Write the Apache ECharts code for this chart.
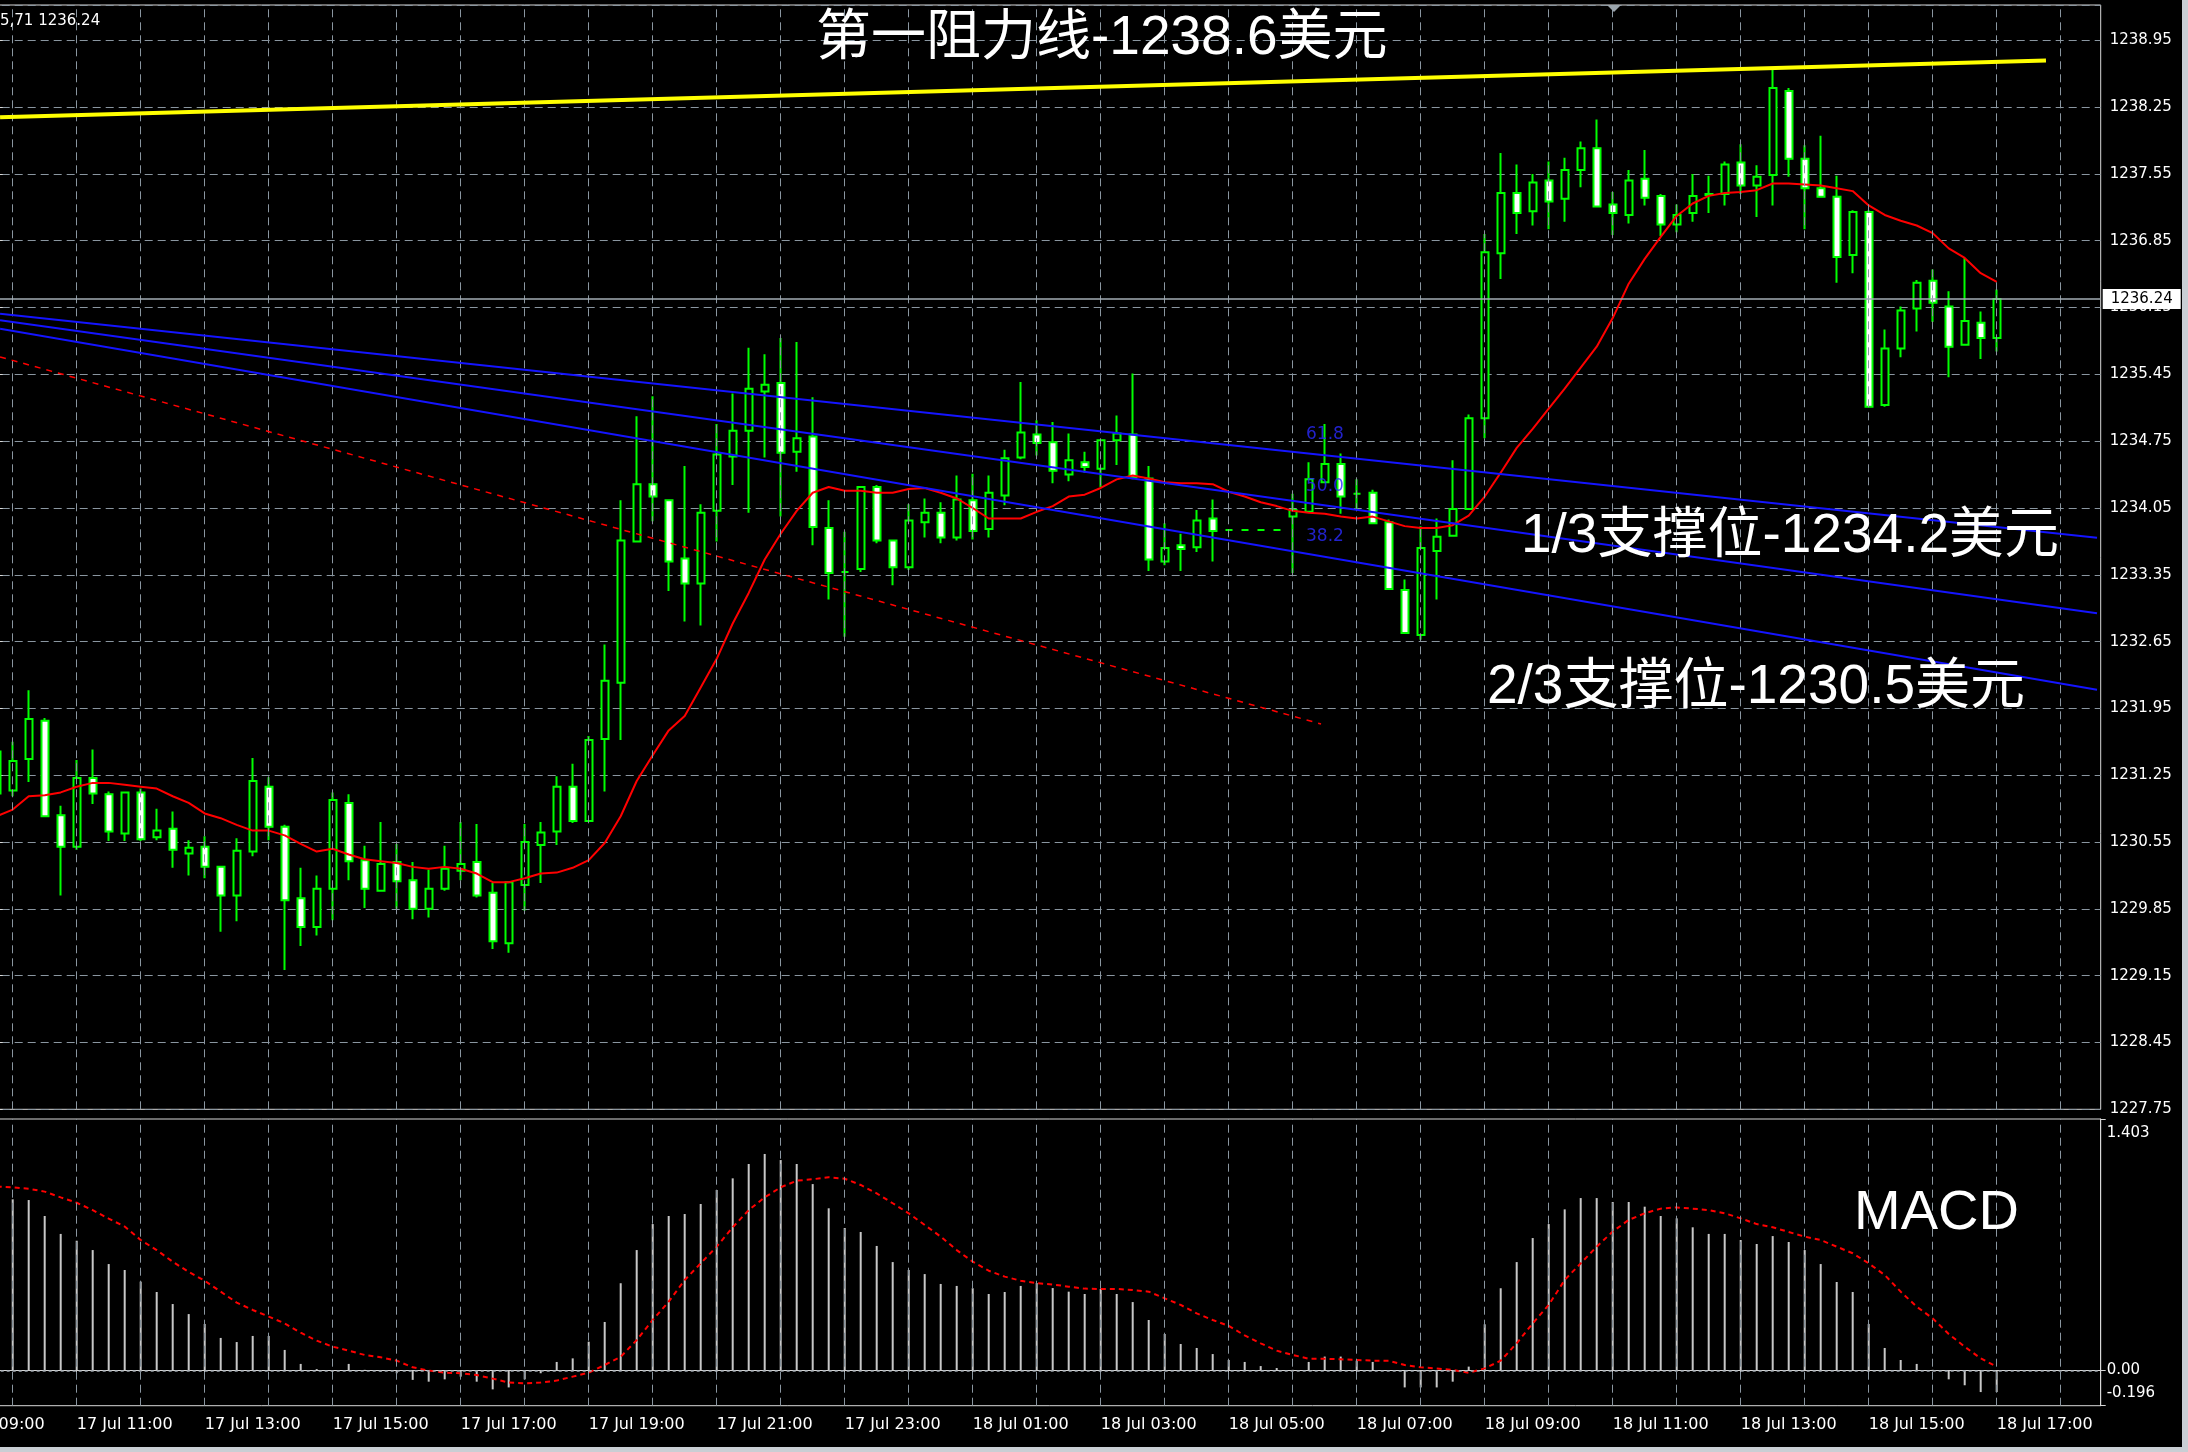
<!DOCTYPE html>
<html><head><meta charset="utf-8">
<script src="https://cdn.jsdelivr.net/npm/echarts@6/dist/echarts.min.js"></script>
<style>html,body{margin:0;padding:0;background:#000;}#c{width:2188px;height:1452px;}</style>
</head><body><div id="c"></div>
<script>
// ---------- DATA ----------
// 15-minute bars from 17 Jul 09:45 to 18 Jul 17:00 (126 bars) + 6 empty slots of chart shift
const BAR_COUNT = 126, SLOT_COUNT = 132;
const CATEGORIES = [];
for (let k = 0; k < SLOT_COUNT; k++) {
  const mins = 9 * 60 + 45 + 15 * k;
  const day = 17 + Math.floor(mins / 1440);
  const m = mins % 1440;
  CATEGORIES.push(day + ' Jul ' + String(Math.floor(m / 60)).padStart(2, '0') + ':' + String(m % 60).padStart(2, '0'));
}
const OPEN = [1231.06,1231.09,1231.42,1231.82,1230.83,1230.50,1231.22,1231.05,1230.64,1231.07,
1230.60,1230.69,1230.43,1230.50,1230.29,1229.99,1230.45,1231.13,1230.71,1229.96,
1229.66,1230.06,1230.96,1230.36,1230.04,1230.34,1230.15,1229.85,1230.06,1230.25,
1230.34,1230.02,1229.49,1230.10,1230.52,1230.66,1231.13,1230.77,1231.63,1232.22,
1233.70,1234.30,1234.13,1233.52,1233.26,1234.02,1234.59,1234.86,1235.27,1235.36,
1234.64,1234.80,1233.84,1233.38,1233.41,1234.27,1233.71,1233.43,1233.90,1234.00,
1233.74,1234.13,1233.83,1234.18,1234.58,1234.82,1234.74,1234.40,1234.53,1234.46,
1234.76,1234.82,1234.36,1233.49,1233.66,1233.64,1233.94,1233.82,1233.82,1233.82,
1233.82,1233.96,1234.01,1234.32,1234.51,1234.20,1234.21,1233.90,1233.19,1232.72,
1233.60,1233.76,1234.04,1234.99,1236.72,1237.35,1237.16,1237.48,1237.29,1237.59,
1237.82,1237.23,1237.12,1237.50,1237.32,1237.02,1237.14,1237.33,1237.34,1237.67,
1237.43,1237.54,1238.42,1237.71,1237.40,1237.31,1236.70,1237.15,1235.13,1235.72,
1236.14,1236.43,1236.16,1235.76,1235.99,1235.83];
const CLOSE = [1231.50,1231.40,1231.84,1230.82,1230.50,1231.22,1231.06,1230.66,1231.07,1230.58,
1230.67,1230.47,1230.49,1230.29,1229.99,1230.46,1231.19,1230.71,1229.94,1229.66,
1230.06,1230.99,1230.35,1230.06,1230.32,1230.14,1229.85,1230.06,1230.27,1230.32,
1229.99,1229.51,1230.13,1230.55,1230.65,1231.13,1230.77,1231.62,1232.24,1233.71,
1234.30,1234.17,1233.49,1233.26,1234.00,1234.61,1234.86,1235.30,1235.34,1234.63,
1234.78,1233.85,1233.37,1233.38,1234.27,1233.71,1233.43,1233.92,1234.00,1233.74,
1234.14,1233.81,1234.21,1234.57,1234.84,1234.73,1234.44,1234.55,1234.48,1234.76,
1234.83,1234.37,1233.51,1233.63,1233.62,1233.92,1233.81,1233.82,1233.82,1233.82,
1233.82,1234.03,1234.35,1234.51,1234.17,1234.20,1233.89,1233.20,1232.74,1233.63,
1233.75,1234.04,1234.99,1236.73,1237.35,1237.14,1237.46,1237.26,1237.59,1237.82,
1237.21,1237.14,1237.48,1237.30,1237.02,1237.12,1237.32,1237.34,1237.65,1237.43,
1237.52,1238.45,1237.71,1237.40,1237.31,1236.68,1237.15,1235.11,1235.72,1236.12,
1236.41,1236.20,1235.74,1236.01,1235.83,1236.24];
const LOW = [1230.98,1231.03,1231.18,1230.81,1229.99,1230.47,1230.95,1230.56,1230.56,1230.56,
1230.57,1230.28,1230.20,1230.17,1229.61,1229.72,1230.40,1230.57,1229.21,1229.46,
1229.57,1229.73,1230.15,1229.86,1230.03,1229.85,1229.74,1229.76,1230.04,1230.15,
1229.97,1229.43,1229.39,1229.83,1230.12,1230.52,1230.75,1230.76,1231.08,1231.62,
1233.69,1233.91,1233.18,1232.86,1232.82,1233.70,1234.29,1234.00,1234.58,1233.96,
1234.43,1233.66,1233.09,1232.70,1233.38,1233.68,1233.24,1233.40,1233.74,1233.68,
1233.71,1233.72,1233.74,1234.08,1234.56,1234.60,1234.31,1234.33,1234.42,1234.27,
1234.50,1234.35,1233.39,1233.45,1233.39,1233.59,1233.49,1233.82,1233.82,1233.82,
1233.82,1233.37,1234.01,1234.32,1233.99,1234.04,1233.89,1233.20,1232.74,1232.67,
1233.09,1233.76,1234.04,1234.78,1236.45,1236.92,1237.01,1236.97,1237.05,1237.41,
1237.21,1236.91,1237.03,1237.22,1236.90,1236.94,1237.05,1237.14,1237.22,1237.34,
1237.10,1237.22,1237.52,1236.97,1237.31,1236.41,1236.51,1235.10,1235.11,1235.63,
1235.90,1236.00,1235.42,1235.76,1235.61,1235.69];
const HIGH = [1231.55,1231.60,1232.14,1231.85,1230.93,1231.41,1231.52,1231.08,1231.07,1231.11,
1230.90,1230.87,1230.57,1230.61,1230.30,1230.59,1231.43,1231.23,1230.73,1230.28,
1230.20,1231.07,1231.05,1230.51,1230.76,1230.53,1230.34,1230.26,1230.51,1230.76,
1230.74,1230.12,1230.14,1230.74,1230.76,1231.24,1231.37,1231.66,1232.62,1234.13,
1235.01,1235.22,1234.14,1234.49,1234.09,1234.93,1235.25,1235.73,1235.66,1235.83,
1235.79,1235.21,1234.13,1233.80,1234.28,1234.29,1233.71,1234.09,1234.15,1234.11,
1234.39,1234.41,1234.39,1234.66,1235.37,1234.97,1234.95,1234.83,1234.64,1234.76,
1235.02,1235.46,1234.49,1233.89,1233.78,1234.03,1234.14,1233.82,1233.82,1233.82,
1233.82,1234.20,1234.53,1234.93,1234.62,1234.35,1234.24,1233.93,1233.30,1233.86,
1233.94,1234.55,1235.03,1236.92,1237.77,1237.65,1237.55,1237.68,1237.72,1237.89,
1238.12,1237.36,1237.59,1237.80,1237.34,1237.23,1237.55,1237.53,1237.68,1237.86,
1237.64,1238.64,1238.45,1237.85,1237.95,1237.53,1237.17,1237.17,1235.92,1236.16,
1236.44,1236.55,1236.32,1236.67,1236.11,1236.34];
const MA = [1230.82,1230.89,1231.03,1231.04,1231.07,1231.13,1231.17,1231.17,1231.15,1231.13,
1231.11,1231.03,1230.96,1230.85,1230.80,1230.73,1230.67,1230.67,1230.62,1230.53,
1230.45,1230.48,1230.42,1230.37,1230.35,1230.33,1230.29,1230.27,1230.29,1230.27,
1230.22,1230.13,1230.13,1230.17,1230.22,1230.23,1230.28,1230.36,1230.54,1230.82,
1231.19,1231.46,1231.72,1231.87,1232.17,1232.47,1232.84,1233.16,1233.51,1233.78,
1234.02,1234.21,1234.27,1234.23,1234.23,1234.21,1234.21,1234.25,1234.26,1234.21,
1234.15,1234.05,1233.94,1233.94,1233.94,1234.01,1234.07,1234.17,1234.19,1234.26,
1234.35,1234.39,1234.36,1234.32,1234.31,1234.31,1234.30,1234.22,1234.17,1234.11,
1234.07,1234.02,1234.00,1233.99,1233.96,1233.94,1233.96,1233.91,1233.86,1233.84,
1233.84,1233.87,1233.97,1234.17,1234.42,1234.68,1234.88,1235.09,1235.30,1235.52,
1235.74,1236.04,1236.40,1236.66,1236.89,1237.11,1237.24,1237.32,1237.35,1237.36,
1237.38,1237.45,1237.45,1237.44,1237.43,1237.40,1237.37,1237.22,1237.12,1237.06,
1237.01,1236.93,1236.77,1236.67,1236.51,1236.42];
const MACD_MAIN = [0.970,0.955,0.951,0.862,0.762,0.724,0.672,0.594,0.561,0.496,
0.438,0.371,0.315,0.260,0.182,0.159,0.193,0.193,0.115,0.037,
0.008,-0.004,0.037,0.004,-0.006,-0.015,-0.052,-0.062,-0.049,-0.034,
-0.062,-0.105,-0.094,-0.049,-0.015,0.048,0.068,0.161,0.271,0.487,
0.672,0.817,0.862,0.873,0.929,1.007,1.072,1.152,1.208,1.174,
1.152,1.040,0.905,0.795,0.773,0.695,0.605,0.561,0.538,0.483,
0.472,0.459,0.427,0.438,0.472,0.488,0.460,0.440,0.427,0.455,
0.427,0.382,0.282,0.204,0.148,0.126,0.092,0.059,0.048,0.025,
0.014,0.004,0.048,0.078,0.078,0.055,0.048,0.003,-0.094,-0.094,
-0.094,-0.062,0.022,0.258,0.459,0.605,0.739,0.817,0.899,0.962,
0.962,0.940,0.940,0.914,0.862,0.849,0.799,0.762,0.762,0.728,
0.706,0.750,0.717,0.672,0.594,0.494,0.438,0.260,0.126,0.059,
0.037,0.004,-0.049,-0.082,-0.120,-0.120];
const MACD_SIGNAL = [1.026,1.022,1.014,0.998,0.966,0.936,0.895,0.847,0.803,0.728,
0.672,0.607,0.550,0.501,0.440,0.379,0.338,0.301,0.263,0.211,
0.167,0.133,0.111,0.087,0.074,0.055,0.018,0.000,-0.012,-0.015,
-0.025,-0.045,-0.067,-0.071,-0.067,-0.056,-0.034,-0.012,0.031,0.077,
0.170,0.282,0.384,0.505,0.598,0.691,0.799,0.895,0.966,1.022,
1.059,1.067,1.078,1.070,1.035,0.988,0.933,0.877,0.812,0.747,
0.672,0.607,0.557,0.524,0.501,0.488,0.480,0.468,0.457,0.455,
0.455,0.449,0.440,0.403,0.366,0.319,0.282,0.249,0.196,0.152,
0.111,0.087,0.066,0.066,0.063,0.059,0.055,0.055,0.031,0.018,
0.012,0.003,-0.012,0.012,0.055,0.152,0.263,0.366,0.505,0.598,
0.691,0.775,0.840,0.877,0.903,0.910,0.903,0.895,0.877,0.849,
0.817,0.799,0.773,0.747,0.728,0.691,0.654,0.598,0.533,0.440,
0.356,0.291,0.204,0.133,0.068,0.022];
// Drawn objects (bar index, price)
const RESISTANCE_LINE = [[0.21, 1238.145], [128.08, 1238.739]];
const CHANNEL_LINES = [
  [[0.21, 1236.086], [131.27, 1233.739]],
  [[0.21, 1236.017], [131.27, 1232.948]],
  [[0.21, 1235.927], [131.27, 1232.145]]
];
const RED_TREND_LINE = [[0.21, 1235.633], [82.77, 1231.787]];
const FIBO_LABELS = [[81.8, 1234.817, '61.8'], [81.8, 1234.277, '50.0'], [81.8, 1233.747, '38.2']];
const HOUR_BARS = []; for (let k = 1; k < SLOT_COUNT; k += 4) HOUR_BARS.push(k);
const PRICE_MIN = 1227.75, PRICE_MAX = 1239.32, PRICE_STEP = 0.7;
const MACD_MIN = -0.196, MACD_MAX = 1.403, MACD_LABELS = [-0.196, 0, 1.403];
const BID = 1236.24;

// ---------- CHART ----------
const chart = echarts.init(document.getElementById('c'), null, {renderer: 'canvas', width: 2188, height: 1452});
const GRIDC = '#8a96a0';
const candleData = OPEN.map((o, k) => [o, CLOSE[k], LOW[k], HIGH[k]]);
const vLines = HOUR_BARS.map(k => ({xAxis: CATEGORIES[k]}));
const lineSeries = (pts, color, width, type, z) => ({
  type: 'line', xAxisIndex: 1, yAxisIndex: 0, data: pts, symbol: 'none', z: z,
  lineStyle: {color: color, width: width, type: type || 'solid'}, silent: true, animation: false
});
const txt = (text, x, y, size, fam, color, align, valign) => ({
  type: 'text', x: x, y: y, z: 100, silent: true,
  style: {text: text, fill: color || '#fff', fontSize: size, fontFamily: fam,
    textAlign: align || 'left', textVerticalAlign: valign || 'middle', align: align || 'left', verticalAlign: valign || 'middle'}
});
const CJK = '"Liberation Sans", "Noto Sans CJK SC", sans-serif';
const labelEvery = idx => idx % 8 === 5;
const AXF = {color: '#fff', fontFamily: 'DejaVu Sans', fontSize: 15};
const GRID_COMMON = {left: -11.3, width: 2112, show: true, borderColor: '#d8d8d8', borderWidth: 1,
  backgroundColor: 'transparent', containLabel: false, outerBoundsMode: 'none'};

chart.setOption({
  backgroundColor: '#000',
  animation: false,
  grid: [
    Object.assign({top: 5, height: 1104.3}, GRID_COMMON),
    Object.assign({top: 1119, height: 286.7}, GRID_COMMON)
  ],
  xAxis: [
    {type: 'category', gridIndex: 0, data: CATEGORIES, boundaryGap: true, axisLine: {show: false}, axisTick: {show: false}, axisLabel: {show: false}, splitLine: {show: false}},
    {type: 'value', gridIndex: 0, min: -0.5, max: SLOT_COUNT - 0.5, show: false, splitLine: {show: false}},
    {type: 'category', gridIndex: 1, data: CATEGORIES, boundaryGap: true,
      axisLine: {show: true, lineStyle: {color: '#d8d8d8', width: 1}},
      axisTick: {show: true, alignWithLabel: true, interval: labelEvery, length: 6, lineStyle: {color: '#d8d8d8'}},
      axisLabel: {show: true, interval: labelEvery, align: 'left', color: '#fff', fontFamily: 'DejaVu Sans', fontSize: 16, margin: 11},
      splitLine: {show: false}}
  ],
  yAxis: [
    {type: 'value', gridIndex: 0, position: 'right', min: PRICE_MIN, max: PRICE_MAX, interval: PRICE_STEP,
      axisLine: {show: true, lineStyle: {color: '#d8d8d8', width: 1}},
      axisTick: {show: true, length: 6, lineStyle: {color: '#d8d8d8'}},
      axisLabel: {color: '#fff', fontFamily: 'DejaVu Sans', fontSize: 15, margin: 9, showMaxLabel: false, formatter: v => v.toFixed(2)},
      splitLine: {show: true, lineStyle: {color: GRIDC, type: [8, 5], width: 1}}},
    {type: 'value', gridIndex: 1, position: 'right', min: MACD_MIN, max: MACD_MAX,
      axisLine: {show: true, lineStyle: {color: '#d8d8d8', width: 1}},
      axisTick: {show: true, length: 5, customValues: MACD_LABELS, lineStyle: {color: '#d8d8d8'}},
      axisLabel: {color: '#fff', fontFamily: 'DejaVu Sans', fontSize: 15, margin: 6, customValues: MACD_LABELS,
        verticalAlignMinLabel: 'bottom', verticalAlignMaxLabel: 'top',
        formatter: v => (v === 0 ? '0.00' : v > 1 ? '{t|' + v + '}' : '{b|' + v + '}'),
        rich: {
          t: Object.assign({padding: [7, 0, 0, 0]}, AXF),
          b: Object.assign({padding: [0, 0, 5, 0]}, AXF)
        }},
      splitLine: {show: false}}
  ],
  graphic: [
    txt('第一阻力线-1238.6美元', 816, 39, 55, CJK),
    txt('1/3支撑位-1234.2美元', 1521, 537, 55, CJK),
    txt('2/3支撑位-1230.5美元', 1487, 688, 55, CJK),
    txt('MACD', 1854, 1214, 56, CJK),
    txt('5,71 1236.24', 0, 21, 15, 'DejaVu Sans'),
    txt('17 Jul 09:00', -51.3, 1416.7, 16, 'DejaVu Sans', '#fff', 'left', 'top'),
    {type: 'polygon', z: 100, silent: true, shape: {points: [[1607, 5], [1621, 5], [1614, 12]]}, style: {fill: '#9aa4ac'}},
    {type: 'rect', z: 100, silent: true, shape: {x: 2182, y: 0, width: 6, height: 1452}, style: {fill: '#c9ced4'}},
    {type: 'rect', z: 100, silent: true, shape: {x: 0, y: 1447, width: 2188, height: 5}, style: {fill: '#c9ced4'}}
  ],
  series: [
    {type: 'line', name: 'grid-main', xAxisIndex: 0, yAxisIndex: 0, data: [], z: 1, silent: true,
      markLine: {silent: true, symbol: ['none', 'none'], animation: false, label: {show: false},
        lineStyle: {color: GRIDC, type: [8, 5], width: 1}, data: vLines}},
    {type: 'candlestick', name: 'XAUUSD', xAxisIndex: 0, yAxisIndex: 0, data: candleData, z: 3, barWidth: 7.5,
      itemStyle: {color: '#000', color0: '#fff', borderColor: '#00ff00', borderColor0: '#00ff00', borderColorDoji: '#00ff00', borderWidth: 2},
      markLine: {silent: true, symbol: ['none', 'none'], animation: false, z: 6,
        lineStyle: {color: '#a3adb5', type: 'solid', width: 1.5},
        label: {show: true, position: 'end', distance: 2, formatter: BID.toFixed(2), color: '#000', backgroundColor: '#fff',
          padding: [3, 8, 2, 8], fontFamily: 'DejaVu Sans', fontSize: 15},
        data: [{yAxis: BID}]}},
    {type: 'line', name: 'MA', xAxisIndex: 0, yAxisIndex: 0, data: MA, symbol: 'none', z: 4,
      lineStyle: {color: '#ff0000', width: 2}, silent: true},
    lineSeries(RESISTANCE_LINE, '#ffff00', 4, 'solid', 5),
    lineSeries(CHANNEL_LINES[0], '#1414ff', 2, 'solid', 5),
    lineSeries(CHANNEL_LINES[1], '#1414ff', 2, 'solid', 5),
    lineSeries(CHANNEL_LINES[2], '#1414ff', 2, 'solid', 5),
    lineSeries(RED_TREND_LINE, '#ff0000', 1.5, [6, 6], 5),
    {type: 'scatter', xAxisIndex: 1, yAxisIndex: 0, data: FIBO_LABELS, symbolSize: 1, z: 6, silent: true,
      itemStyle: {color: 'rgba(0,0,0,0)'},
      label: {show: true, position: 'right', distance: 0, color: '#2a2aff', fontFamily: 'DejaVu Sans', fontSize: 17,
        formatter: p => p.data[2]}},
    {type: 'line', name: 'grid-macd', xAxisIndex: 2, yAxisIndex: 1, data: [], z: 1, silent: true,
      markLine: {silent: true, symbol: ['none', 'none'], animation: false, label: {show: false},
        lineStyle: {color: GRIDC, type: [8, 5], width: 1},
        data: vLines.concat([{yAxis: 0, lineStyle: {color: '#a0a8b0', type: [3, 3], width: 1.5}}])}},
    {type: 'bar', name: 'MACD', xAxisIndex: 2, yAxisIndex: 1, data: MACD_MAIN, barWidth: 2, z: 3,
      itemStyle: {color: '#c8c8c8'}, silent: true},
    {type: 'line', name: 'Signal', xAxisIndex: 2, yAxisIndex: 1, data: MACD_SIGNAL, symbol: 'none', z: 4,
      lineStyle: {color: '#ff0000', width: 2, type: [5, 4]}, silent: true}
  ]
});
</script></body></html>
